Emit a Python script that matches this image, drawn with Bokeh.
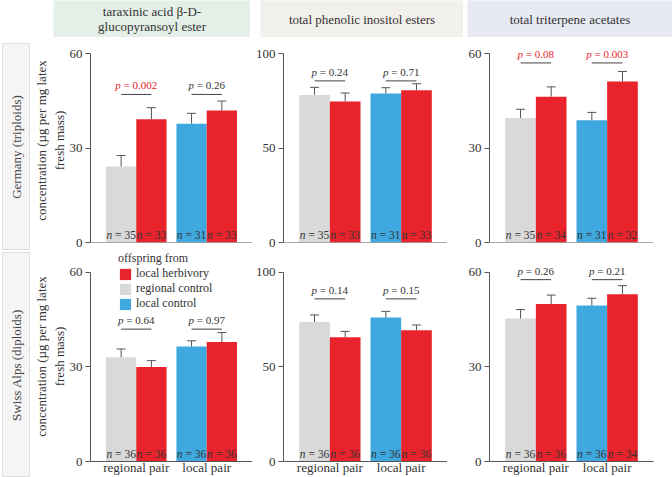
import math
from bokeh.plotting import figure
from bokeh.models import (Range1d, FactorRange, ColumnDataSource, Whisker, TeeHead,
                          FixedTicker, Legend, LegendItem, Label, Spacer, Span)
from bokeh.layouts import row, column
from bokeh.transform import dodge
from bokeh.core.properties import value
from bokeh.embed import file_html
from bokeh.resources import INLINE

# ---------------- data ----------------
pairs = ["regional pair", "local pair"]
compound_titles = [["taraxinic acid \u03b2-D-", "glucopyransoyl ester"],
                   ["total phenolic inositol esters"],
                   ["total triterpene acetates"]]
regions = ["Germany (triploids)", "Swiss Alps (diploids)"]
y_max = [60, 100, 60]
y_ticks = [[0, 30, 60], [0, 50, 100], [0, 30, 60]]
legend_labels = ["local herbivory", "regional control", "local control"]
y_label = "concentration (\u00b5g per mg latex\nfresh mass)"

# Germany (triploids): per compound, [regional pair, local pair]
de_control_mean = [[24.1, 37.7], [78.1, 78.8], [39.5, 38.8]]
de_control_se = [[3.5, 3.3], [4.0, 3.1], [2.8, 2.5]]
de_herb_mean = [[39.1, 41.9], [74.6, 80.5], [46.3, 51.1]]
de_herb_se = [[3.7, 3.0], [4.5, 3.5], [3.1, 3.2]]
de_control_n = [[35, 31], [35, 31], [35, 31]]
de_herb_n = [[33, 33], [33, 33], [34, 32]]
de_p = [["0.002", "0.26"], ["0.24", "0.71"], ["0.08", "0.003"]]

# Swiss Alps (diploids)
ch_control_mean = [[33.1, 36.5], [73.8, 76.1], [45.4, 49.5]]
ch_control_se = [[2.6, 1.8], [3.7, 3.3], [2.8, 2.3]]
ch_herb_mean = [[30.0, 37.9], [65.7, 69.4], [50.0, 53.1]]
ch_herb_se = [[2.0, 3.0], [3.1, 2.8], [2.8, 2.7]]
ch_control_n = [[36, 36], [36, 36], [36, 36]]
ch_herb_n = [[36, 36], [36, 36], [36, 34]]
ch_p = [["0.64", "0.97"], ["0.14", "0.15"], ["0.26", "0.21"]]

# height of the significance bracket in each panel (data units)
bracket_y = [[47, 85.5, 57], [42, 86, 57.7]]

# ---------------- style ----------------
FONT = "Liberation Serif"
TXT = "#333333"
AX = "#555555"
RED = "#e8232b"
GRAY = "#d9d9d9"
BLUE = "#3fa9df"
HEAD_COLORS = ["#e3efe7", "#f2f0eb", "#e7e9f3"]
BOX_COLOR = "#f5f5f5"
BAR_W = 0.43
OFF = BAR_W / 2

W_EM = {'.': 0.25, ' ': 0.25, '=': 0.564}


def tw(s, size):
    return sum(W_EM.get(c, 0.5) for c in s) * size


fig_w = [222, 195, 225]
border_l = [60, 31, 42]
border_r = [0, 0, 19]
fig_h = [213, 227]
border_t = [1, 1]
border_b = [8, 15]
extra_px = [15, 21]      # frame space above the top tick
axis_px = [189, 190]     # frame space from 0 to the top tick

rows_data = [
    (de_control_mean, de_control_se, de_herb_mean, de_herb_se, de_control_n, de_herb_n, de_p),
    (ch_control_mean, ch_control_se, ch_herb_mean, ch_herb_se, ch_control_n, ch_herb_n, ch_p),
]


def two_part(x_spec, y_spec, prefix, rests, size, color, p, src_extra, y_off):
    # italic prefix letter + upright remainder, centred as a whole
    starts = []
    rest_offs = []
    for r in rests:
        total = tw(prefix + " ", size) + tw(r, size)
        s = -total / 2
        starts.append(s)
        rest_offs.append(s + tw(prefix + " ", size))
    data = dict(src_extra)
    data["pre"] = [prefix] * len(rests)
    data["rest"] = list(rests)
    data["xo_pre"] = starts
    data["xo_rest"] = rest_offs
    data["col"] = color
    src = ColumnDataSource(data)
    p.text(x=x_spec, y=y_spec, text="pre", x_offset="xo_pre", y_offset=y_off, source=src,
           text_font=value(FONT), text_font_size=value(f"{size}px"), text_font_style="italic",
           text_color="col", text_align="left", text_baseline="middle")
    p.text(x=x_spec, y=y_spec, text="rest", x_offset="xo_rest", y_offset=y_off, source=src,
           text_font=value(FONT), text_font_size=value(f"{size}px"), text_font_style="normal",
           text_color="col", text_align="left", text_baseline="middle")


def make_panel(ri, ci):
    cm, cs, hm, hs, cn, hn, pv = rows_data[ri]
    ytop = y_max[ci] * (1 + extra_px[ri] / axis_px[ri])
    p = figure(width=fig_w[ci], height=fig_h[ri],
               x_range=FactorRange(*pairs, range_padding=0.15, range_padding_units="absolute"),
               y_range=Range1d(0, ytop),
               output_backend="svg", toolbar_location=None,
               min_border_left=border_l[ci], min_border_right=border_r[ci],
               min_border_top=border_t[ri], min_border_bottom=border_b[ri])
    p.outline_line_color = None
    p.grid.visible = False
    xr = p.x_range
    src = ColumnDataSource(dict(
        pair=pairs,
        ctrl=cm[ci], ctrl_up=[m + s for m, s in zip(cm[ci], cs[ci])],
        herb=hm[ci], herb_up=[m + s for m, s in zip(hm[ci], hs[ci])],
        ctrl_color=[GRAY, BLUE],
        by=[bracket_y[ri][ci]] * 2,
    ))
    r_ctrl = p.vbar(x=dodge("pair", -OFF, range=xr), top="ctrl", width=BAR_W, source=src,
                    fill_color="ctrl_color", line_color=None)
    r_herb = p.vbar(x=dodge("pair", OFF, range=xr), top="herb", width=BAR_W, source=src,
                    fill_color=RED, line_color=None)
    for off, lo, up in ((-OFF, "ctrl", "ctrl_up"), (OFF, "herb", "herb_up")):
        w = Whisker(base=dodge("pair", off, range=xr), lower=lo, upper=up, source=src,
                    dimension="height", line_color=AX, line_width=1, level="overlay",
                    upper_head=TeeHead(size=9, line_color=AX, line_width=1), lower_head=None)
        p.add_layout(w)
    # brackets
    p.segment(x0=dodge("pair", -OFF, range=xr), y0="by", x1=dodge("pair", OFF, range=xr), y1="by",
              source=src, line_color="#444444", line_width=1)
    pcol = [RED if float(v) < 0.1 else TXT for v in pv[ci]]
    two_part("pair", "by", "p", ["= " + v for v in pv[ci]], 11, pcol, p,
             dict(pair=pairs, by=[bracket_y[ri][ci]] * 2), -9)
    # n labels
    two_part(dodge("pair", -OFF, range=xr), 0, "n", ["= %d" % v for v in cn[ci]], 11.5, [TXT, TXT], p,
             dict(pair=pairs), -8)
    two_part(dodge("pair", OFF, range=xr), 0, "n", ["= %d" % v for v in hn[ci]], 11.5, [TXT, TXT], p,
             dict(pair=pairs), -8)

    # axes
    p.yaxis.ticker = FixedTicker(ticks=y_ticks[ci])
    p.yaxis.bounds = (0, y_max[ci])
    p.yaxis.minor_tick_line_color = None
    p.yaxis.major_tick_in = 0
    p.yaxis.major_tick_out = 5
    p.yaxis.major_label_standoff = 3
    p.axis.axis_line_color = AX
    p.axis.major_tick_line_color = AX
    p.axis.major_label_text_font = FONT
    p.axis.major_label_text_font_size = "13px"
    p.axis.major_label_text_color = TXT
    p.xaxis.major_tick_line_color = None
    p.xaxis.major_tick_out = 0
    p.xaxis.major_tick_in = 0
    if ri == 0:
        p.xaxis.visible = False
        p.add_layout(Span(location=0, dimension="width", line_color=AX, line_width=1))
    else:
        p.xaxis.major_label_standoff = -2
    if ci == 0:
        p.yaxis.axis_label = y_label
        p.yaxis.axis_label_text_font = FONT
        p.yaxis.axis_label_text_font_size = "13px"
        p.yaxis.axis_label_text_font_style = "normal"
        p.yaxis.axis_label_text_color = TXT
        p.yaxis.axis_label_standoff = 0
    if ri == 1 and ci == 0:
        leg = Legend(items=[LegendItem(label=legend_labels[0], renderers=[r_herb]),
                            LegendItem(label=legend_labels[1], renderers=[r_ctrl], index=0),
                            LegendItem(label=legend_labels[2], renderers=[r_ctrl], index=1)],
                     location=(28, 150), title="offspring from",
                     border_line_color=None, background_fill_alpha=0,
                     padding=0, margin=0, spacing=0,
                     glyph_width=14, glyph_height=14, label_height=14, label_standoff=4,
                     label_text_font=FONT, label_text_font_size="12px", label_text_color=TXT,
                     title_text_font=FONT, title_text_font_size="12px", title_text_color=TXT,
                     title_text_font_style="normal", title_standoff=0)
        p.add_layout(leg)
    return p


def deco_fig(w, h, fill, left=0, outline=None):
    f = figure(width=w, height=h, x_range=Range1d(0, 1), y_range=Range1d(0, 1),
               output_backend="svg", toolbar_location=None,
               x_axis_location=None, y_axis_location=None,
               min_border_left=left, min_border_right=0, min_border_top=0, min_border_bottom=0,
               background_fill_color=fill, border_fill_color="white")
    f.grid.visible = False
    f.outline_line_color = outline
    return f


# headers
head_w = [197, 203, 205]
heads = []
for ci in range(3):
    hf = deco_fig(head_w[ci], 37, HEAD_COLORS[ci])
    lines = compound_titles[ci]
    nl = len(lines)
    for k, t in enumerate(lines):
        hf.add_layout(Label(x=0.5, y=0.5, text=t,
                            y_offset=(nl - 1) * 7.5 - k * 15,
                            text_align="center", text_baseline="middle",
                            text_font=FONT, text_font_size="13px", text_color=TXT))
    heads.append(hf)

# row labels
row_boxes = []
box_h = [207, 225]
for ri in range(2):
    lf = deco_fig(30, box_h[ri], BOX_COLOR, left=2, outline="#dedede")
    lf.add_layout(Label(x=0.5, y=0.5, text=regions[ri], angle=math.pi / 2,
                        text_align="center", text_baseline="middle",
                        text_font=FONT, text_font_size="13px", text_color="#444444"))
    row_boxes.append(lf)

panels = [[make_panel(ri, ci) for ci in range(3)] for ri in range(2)]

header_row = row(Spacer(width=23, height=37), heads[0], Spacer(width=10, height=37), heads[1],
                 Spacer(width=4, height=37), heads[2])
right = column(header_row, row(*panels[0]), row(*panels[1]))
left = column(Spacer(width=30, height=43), row_boxes[0], Spacer(width=30, height=2), row_boxes[1])
layout = row(left, right)

open("out.html", "w").write(file_html(layout, INLINE))
